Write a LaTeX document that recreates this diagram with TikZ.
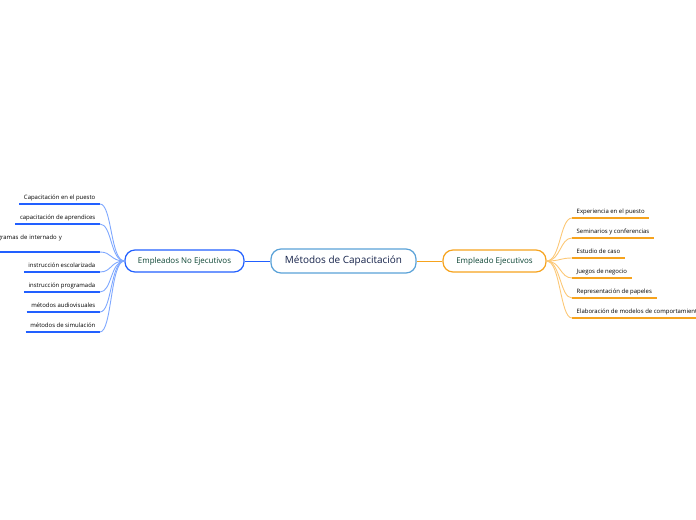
\documentclass[tikz,border=0pt]{standalone}
\usepackage{fontspec}
\setmainfont{Open Sans}
\definecolor{rootln}{HTML}{5AA2D8}
\definecolor{roottx}{HTML}{15224A}
\definecolor{nelin}{HTML}{2260FF}
\definecolor{necrv}{HTML}{7FA8FF}
\definecolor{ejlin}{HTML}{F6A31E}
\definecolor{ejcrv}{HTML}{FCC877}
\definecolor{subtx}{HTML}{0B4433}
\tikzset{
  topic/.style={draw, line width=1.2bp, rounded corners=10bp, fill=white, inner sep=2pt, align=center},
  leaf/.style={font=\fontsize{6}{7}\selectfont, text=black, text height=5bp, text depth=1.5bp, inner xsep=4.5bp, inner ysep=3bp},
  neleaf/.style={leaf, anchor=south east, align=right,
    append after command={(\tikzlastnode.south west) edge[nelin, line width=1.5bp] (\tikzlastnode.south east)}},
  ejleaf/.style={leaf, anchor=south west, align=left,
    append after command={(\tikzlastnode.south west) edge[ejlin, line width=1.5bp] (\tikzlastnode.south east)}},
  necurve/.style={necrv, line width=0.9bp},
  ejcurve/.style={ejcrv, line width=0.9bp}}
\begin{document}
\begin{tikzpicture}[x=1bp, y=-1bp]
\useasboundingbox (0,0) rectangle (696,520);
\node[topic, draw=rootln, text=roottx, minimum width=145bp, minimum height=24bp, font=\fontsize{10}{12}\selectfont] (root) at (343.5,261) {Métodos de Capacitación};
\node[topic, draw=nelin, text=subtx, minimum width=119bp, minimum height=22bp, font=\fontsize{8}{10}\selectfont] (ne) at (184.5,261) {Empleados No Ejecutivos};
\node[topic, draw=ejlin, text=subtx, minimum width=103bp, minimum height=22bp, font=\fontsize{8}{10}\selectfont] (ej) at (494.5,261) {Empleado Ejecutivos};
\draw[nelin, line width=1bp] (root.west) -- (ne.east);
\draw[ejlin, line width=1bp] (root.east) -- (ej.west);
% empleados no ejecutivos
\node[neleaf] (ne1) at (100,204) {Capacitación en el puesto};
\node[neleaf] (ne2) at (100,224) {capacitación de aprendices};
\node[neleaf, text width=107bp, align=left, text depth=9.5bp] (ne3) at (100,252) {Programas de internado y};
\node[neleaf] (ne4) at (100,272) {instrucción escolarizada};
\node[neleaf] (ne5) at (100,292) {instrucción programada};
\node[neleaf] (ne6) at (100,312) {métodos audiovisuales};
\node[neleaf] (ne7) at (100,332) {métodos de simulación};
\foreach \i in {1,...,7}
  \draw[necurve] (ne.west) .. controls +(-14,0) and +(12,0) .. (ne\i.south east);
% empleado ejecutivos
\node[ejleaf] (ej1) at (572,218) {Experiencia en el puesto};
\node[ejleaf] (ej2) at (572,238) {Seminarios y conferencias};
\node[ejleaf] (ej3) at (572,258) {Estudio de caso};
\node[ejleaf] (ej4) at (572,278) {Juegos de negocio};
\node[ejleaf] (ej5) at (572,298) {Representación de papeles};
\node[ejleaf] (ej6) at (572,318) {Elaboración de modelos de comportamiento};
\foreach \i in {1,...,6}
  \draw[ejcurve] (ej.east) .. controls +(14,0) and +(-12,0) .. (ej\i.south west);
\end{tikzpicture}
\end{document}
